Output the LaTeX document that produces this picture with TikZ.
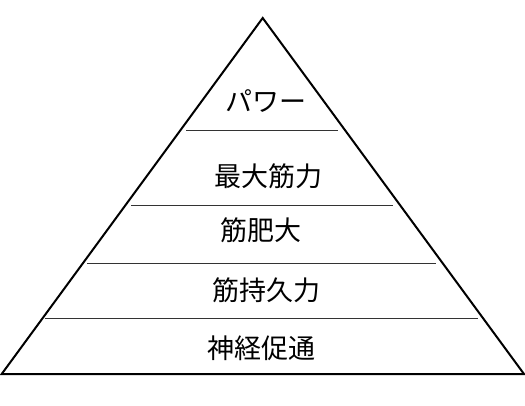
\documentclass[tikz,border=0pt]{standalone}
\usepackage{fontspec}
\newfontfamily\jpfont{Noto Sans CJK JP}
\begin{document}
\begin{tikzpicture}[x=1pt,y=-1pt,
  edge/.style={line width=2pt,line join=miter},
  sep/.style={line width=1.5pt,draw=black!80},
  lbl/.style={font=\jpfont\fontsize{27}{30}\selectfont,inner sep=0pt,anchor=center}]
\useasboundingbox (0,0) rectangle (525,405);
\coordinate (apex) at (262.7,18);
\coordinate (bl) at (1.7,374);
\coordinate (br) at (524,374);
\draw[edge] (bl) -- (apex) -- (br) -- cycle;
\coordinate (l1a) at (186,130.7); \coordinate (l1b) at (338,130.7);
\coordinate (l2a) at (131,205.3); \coordinate (l2b) at (392.7,205.3);
\coordinate (l3a) at (87.3,263.3); \coordinate (l3b) at (436,263.3);
\coordinate (l4a) at (44.7,318.3); \coordinate (l4b) at (478.3,318.3);
\draw[sep] (l1a) -- (l1b);
\draw[sep] (l2a) -- (l2b);
\draw[sep] (l3a) -- (l3b);
\draw[sep] (l4a) -- (l4b);
\node[lbl] (power) at (266,101.5) {パワー};
\node[lbl] (maxs) at (268,176) {最大筋力};
\node[lbl] (hyper) at (261,230.5) {筋肥大};
\node[lbl] (endur) at (266,290) {筋持久力};
\node[lbl] (neuro) at (261,348) {神経促通};
\end{tikzpicture}
\end{document}
